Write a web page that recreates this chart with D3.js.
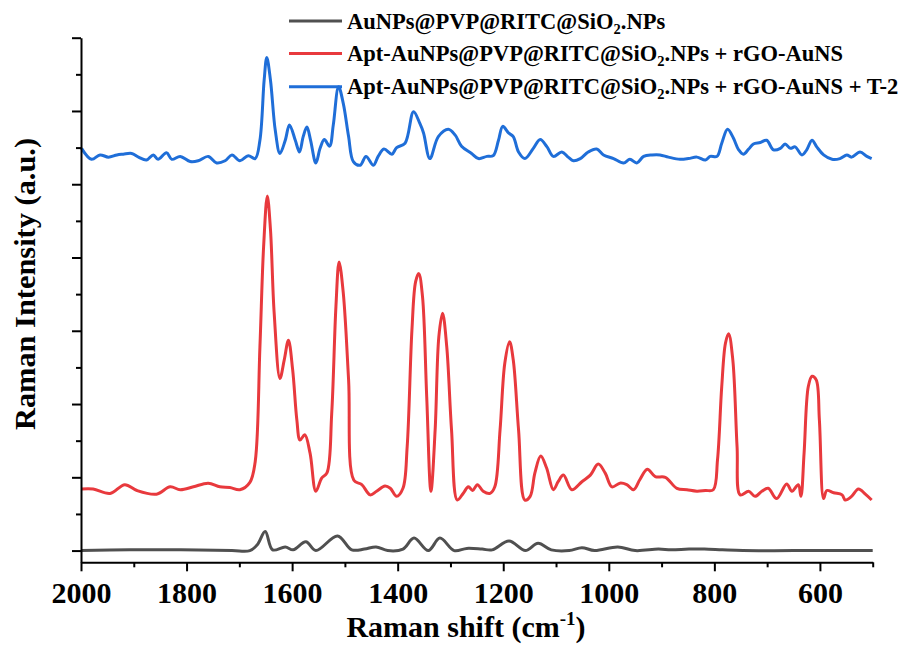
<!DOCTYPE html>
<html>
<head>
<meta charset="utf-8">
<script src="https://cdn.jsdelivr.net/npm/d3@7"></script>
<style>
  body { margin: 0; background: #fff; }
  svg text { font-family: "Liberation Serif", "Times New Roman", serif; font-weight: bold; fill: #000; }
</style>
</head>
<body>
<svg id="chart" width="901" height="645"></svg>
<script>
// spectra (wavenumber in cm-1, intensity in a.u. offsets)
const blackX = [2000,1908,1811,1714,1680,1666,1651,1637,1613,1598,1574,1555,1514,1487,1463,1441,1419,1390,1369,1342,1320,1293,1269,1240,1221,1189,1158,1134,1109,1075,1051,1027,983,950,906,882,848,819,785,746,650,500];
const blackY = [0,0.01,0.01,0,0,0.08,0.26,0.01,0.05,0.01,0.12,0,0.2,0.01,0.02,0.05,0,0.02,0.17,0,0.17,0,0.03,0.02,0.01,0.13,0,0.1,0.01,0,0.04,0,0.05,0,0.02,0.01,0.02,0.02,0.01,0,0,0];

const redX = [1999,1977,1945,1917,1894,1857,1831,1812,1787,1759,1737,1718,1699,1680,1670,1661,1654,1647,1641,1634,1623,1615,1607,1599,1591,1585,1576,1566,1555,1544,1534,1525,1517,1511,1503,1493,1483,1468,1452,1440,1424,1414,1402,1390,1382,1373,1366,1360,1353,1345,1337,1329,1322,1315,1307,1298,1287,1276,1266,1258,1249,1238,1225,1216,1206,1197,1188,1181,1171,1159,1149,1140,1129,1118,1105,1096,1086,1070,1051,1035,1020,1007,994,979,966,953,941,927,912,893,871,852,833,817,802,794,786,779,773,765,757,751,735,723,710,698,682,663,653,641,636,630,622,615,607,601,593,587,574,558,552,540,527,514,502];
const redY = [0.84,0.84,0.78,0.9,0.82,0.77,0.87,0.83,0.87,0.92,0.87,0.86,0.83,0.93,1.21,2.78,4.15,4.84,4.38,3.24,2.35,2.6,2.87,2.47,1.78,1.51,1.58,1.33,0.81,0.99,1.06,1.87,3.33,3.94,3.51,2.33,0.96,0.9,0.76,0.81,0.88,0.85,0.74,0.85,1.42,3.01,3.67,3.78,3.47,2.1,0.81,1.65,2.92,3.24,2.78,1.65,0.69,0.78,0.87,0.82,0.9,0.81,0.78,0.87,1.65,2.56,2.85,2.6,1.65,0.69,0.74,1.06,1.29,1.13,0.83,0.94,1.03,0.83,0.94,1.03,1.18,1.06,0.87,0.92,0.9,0.83,0.97,1.11,1.01,1,0.85,0.83,0.81,0.82,0.83,1.24,2.24,2.83,2.96,2.6,1.42,0.76,0.81,0.74,0.81,0.85,0.71,0.91,0.81,0.9,0.74,1.33,2.24,2.38,2.33,1.78,0.71,0.82,0.79,0.76,0.69,0.74,0.84,0.77,0.69];

const blueX = [1999,1980,1964,1948,1932,1920,1904,1891,1876,1863,1854,1838,1828,1812,1793,1778,1759,1743,1727,1714,1699,1683,1670,1661,1653,1648,1641,1632,1623,1613,1605,1594,1586,1579,1572,1565,1555,1547,1539,1529,1522,1512,1503,1493,1484,1471,1460,1446,1437,1426,1411,1402,1386,1370,1358,1351,1339,1323,1304,1291,1279,1260,1247,1231,1219,1209,1201,1190,1181,1171,1159,1143,1130,1117,1105,1089,1077,1067,1054,1039,1023,1010,991,972,960,947,934,918,903,887,865,849,833,817,808,795,786,775,764,754,745,735,726,713,701,688,675,666,656,647,634,625,615,606,593,577,562,549,540,524,511,502];
const blueY = [5.49,5.34,5.4,5.37,5.4,5.41,5.42,5.37,5.33,5.4,5.34,5.43,5.34,5.38,5.31,5.32,5.38,5.29,5.32,5.4,5.32,5.39,5.35,5.6,6.42,6.73,6.42,5.74,5.42,5.6,5.81,5.6,5.44,5.65,5.78,5.6,5.29,5.49,5.61,5.52,5.81,6.33,6.1,5.65,5.31,5.26,5.38,5.26,5.38,5.48,5.41,5.5,5.56,5.99,5.83,5.7,5.35,5.65,5.75,5.67,5.52,5.42,5.35,5.38,5.39,5.6,5.79,5.7,5.65,5.44,5.35,5.49,5.61,5.51,5.38,5.44,5.37,5.32,5.35,5.44,5.48,5.4,5.35,5.29,5.34,5.29,5.38,5.4,5.4,5.37,5.34,5.35,5.37,5.33,5.38,5.38,5.56,5.75,5.63,5.47,5.41,5.48,5.55,5.57,5.6,5.47,5.49,5.55,5.49,5.51,5.4,5.47,5.6,5.51,5.4,5.34,5.35,5.4,5.37,5.44,5.38,5.35];

const seriesNames = ["AuNPs@PVP@RITC@SiO", "Apt-AuNPs@PVP@RITC@SiO", "Apt-AuNPs@PVP@RITC@SiO"];
const seriesTails = [".NPs", ".NPs + rGO-AuNS", ".NPs + rGO-AuNS + T-2"];
const seriesColors = ["#505050", "#e8393d", "#1f6ed8"];

const xMajor = [2000, 1800, 1600, 1400, 1200, 1000, 800, 600];
const xMinor = [1900, 1700, 1500, 1300, 1100, 900, 700, 500];
const yMajor = [0, 1, 2, 3, 4, 5, 6, 7];
const yMinor = [0.5, 1.5, 2.5, 3.5, 4.5, 5.5, 6.5];

const svg = d3.select("#chart");
const plotLeft = 81, plotRight = 872.7, plotTop = 37.7, plotBottom = 562.3;

const x = d3.scaleLinear().domain([2000, 500]).range([plotLeft, plotRight]);
const y = d3.scaleLinear().domain([-0.16, 7]).range([plotBottom, plotTop]);

// curves
const line = d3.line()
    .x(d => x(d[0]))
    .y(d => y(d[1]))
    .curve(d3.curveCatmullRom.alpha(0.5));

const allSeries = [
    d3.zip(blackX, blackY),
    d3.zip(redX, redY),
    d3.zip(blueX, blueY)
];

allSeries.forEach(function(s, i) {
    svg.append("path")
        .datum(s)
        .attr("d", line)
        .attr("fill", "none")
        .attr("stroke", seriesColors[i])
        .attr("stroke-width", 3)
        .attr("stroke-linejoin", "round");
});

// x axis
const gx = svg.append("g").attr("transform", "translate(0," + plotBottom + ")");
gx.call(d3.axisBottom(x).tickValues(xMajor).tickSize(9).tickSizeOuter(0).tickFormat(d3.format("d")));
gx.append("g").call(d3.axisBottom(x).tickValues(xMinor).tickSize(5).tickFormat("")).select(".domain").remove();
gx.selectAll("path, line").attr("stroke", "#000").attr("stroke-width", 2);
gx.selectAll(".tick text")
    .attr("font-size", 30)
    .attr("y", 0)
    .attr("dy", 0)
    .attr("transform", "translate(0,41)")
    .style("font-family", "'Liberation Serif', 'Times New Roman', serif")
    .style("font-weight", "bold");

// y axis
const gy = svg.append("g").attr("transform", "translate(" + plotLeft + ",0)");
gy.call(d3.axisLeft(y).tickValues(yMajor).tickSize(9).tickSizeOuter(0).tickFormat(""));
gy.append("g").call(d3.axisLeft(y).tickValues(yMinor).tickSize(5).tickFormat("")).select(".domain").remove();
gy.selectAll("path, line").attr("stroke", "#000").attr("stroke-width", 2);

// axis titles
const xt = svg.append("text")
    .attr("x", 466).attr("y", 637)
    .attr("text-anchor", "middle")
    .attr("font-size", 30);
xt.append("tspan").text("Raman shift (cm");
xt.append("tspan").attr("font-size", 19).attr("dy", -12).text("-1");
xt.append("tspan").attr("dy", 12).text(")");

svg.append("text")
    .attr("transform", "translate(35,284) rotate(-90)")
    .attr("text-anchor", "middle")
    .attr("font-size", 30.4)
    .text("Raman Intensity (a.u.)");

// legend
const legY = [21, 53.5, 86.7];
seriesNames.forEach(function(name, i) {
    svg.append("line")
        .attr("x1", 289).attr("x2", 342)
        .attr("y1", legY[i]).attr("y2", legY[i])
        .attr("stroke", seriesColors[i])
        .attr("stroke-width", 3);
    const t = svg.append("text")
        .attr("x", 347).attr("y", legY[i] + 7.6)
        .attr("font-size", 22.5);
    t.append("tspan").text(name);
    t.append("tspan").attr("font-size", 14.5).attr("dy", 5).text("2");
    t.append("tspan").attr("dy", -5).text(seriesTails[i]);
});
</script>
</body>
</html>
